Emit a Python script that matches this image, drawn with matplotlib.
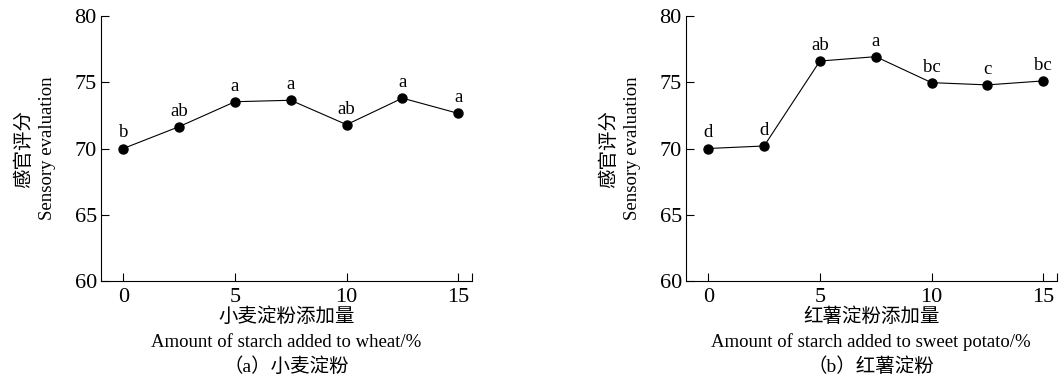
import matplotlib
matplotlib.use("Agg")
import matplotlib.pyplot as plt

plt.rcParams['font.family'] = ['Liberation Serif', 'Noto Sans CJK SC', 'DejaVu Sans']

# 添加量 / %
amount = [0, 2.5, 5, 7.5, 10, 12.5, 15]

# (a) 小麦淀粉
wheat_score = [70.0, 71.65, 73.53, 73.64, 71.8, 73.8, 72.65]
wheat_sig = ['b', 'ab', 'a', 'a', 'ab', 'a', 'a']

# (b) 红薯淀粉
potato_score = [70.0, 70.19, 76.6, 76.93, 74.97, 74.8, 75.1]
potato_sig = ['d', 'd', 'ab', 'a', 'bc', 'c', 'bc']

xticks = [0, 5, 10, 15]
yticks = [60, 65, 70, 75, 80]

panels = [
    (wheat_score, wheat_sig, '小麦淀粉添加量',
     'Amount of starch added to wheat/%', '（a）小麦淀粉', 0.0951),
    (potato_score, potato_sig, '红薯淀粉添加量',
     'Amount of starch added to sweet potato/%', '（b）红薯淀粉', 0.6459),
]

fig = plt.figure(figsize=(10.62, 3.77), dpi=100)

for score, sig, xl_cn, xl_en, cap, left in panels:
    ax = fig.add_axes([left, 0.2546, 0.349, 0.703])
    ax.plot(amount, score, color='black', lw=0.8, marker='o',
            markersize=6.5, markerfacecolor='black', clip_on=False)
    for x, y, s in zip(amount, score, sig):
        ax.annotate(s, (x, y), xytext=(0, 8), textcoords='offset points',
                    ha='center', va='baseline', fontsize=13.5)
    ax.set_xlim(-1, 15.6)
    ax.set_ylim(60, 80)
    ax.set_xticks(xticks)
    ax.set_yticks(yticks)
    ax.spines['top'].set_visible(False)
    ax.spines['right'].set_visible(False)
    ax.tick_params(direction='in', length=6, width=0.8, labelsize=16)
    ax.tick_params(axis='y', pad=3)
    ax.tick_params(axis='x', pad=5)
    # 横轴末端的小竖线
    ax.set_xticks([15.6], minor=True)
    ax.tick_params(axis='x', which='minor', direction='in', length=6, width=0.8)
    for sp in ax.spines.values():
        sp.set_linewidth(0.8)

    # 纵轴标题（两行）
    ax.annotate('感官评分', xy=(0, 0.5), xycoords='axes fraction',
                xytext=(-77, 0), textcoords='offset pixels', rotation=90,
                ha='center', va='center', fontsize=14)
    ax.annotate('Sensory evaluation', xy=(0, 0.5), xycoords='axes fraction',
                xytext=(-53, 0), textcoords='offset pixels', rotation=90,
                ha='center', va='center', fontsize=13.5)
    # 横轴标题和图注
    ax.annotate(xl_cn, xy=(0.5, 0), xycoords='axes fraction',
                xytext=(0, -36), textcoords='offset pixels',
                ha='center', va='center', fontsize=14)
    ax.annotate(xl_en, xy=(0.5, 0), xycoords='axes fraction',
                xytext=(0, -61), textcoords='offset pixels',
                ha='center', va='center', fontsize=13.5)
    ax.annotate(cap, xy=(0.5, 0), xycoords='axes fraction',
                xytext=(0, -86), textcoords='offset pixels',
                ha='center', va='center', fontsize=14)

fig.savefig('out.png', dpi=100)
